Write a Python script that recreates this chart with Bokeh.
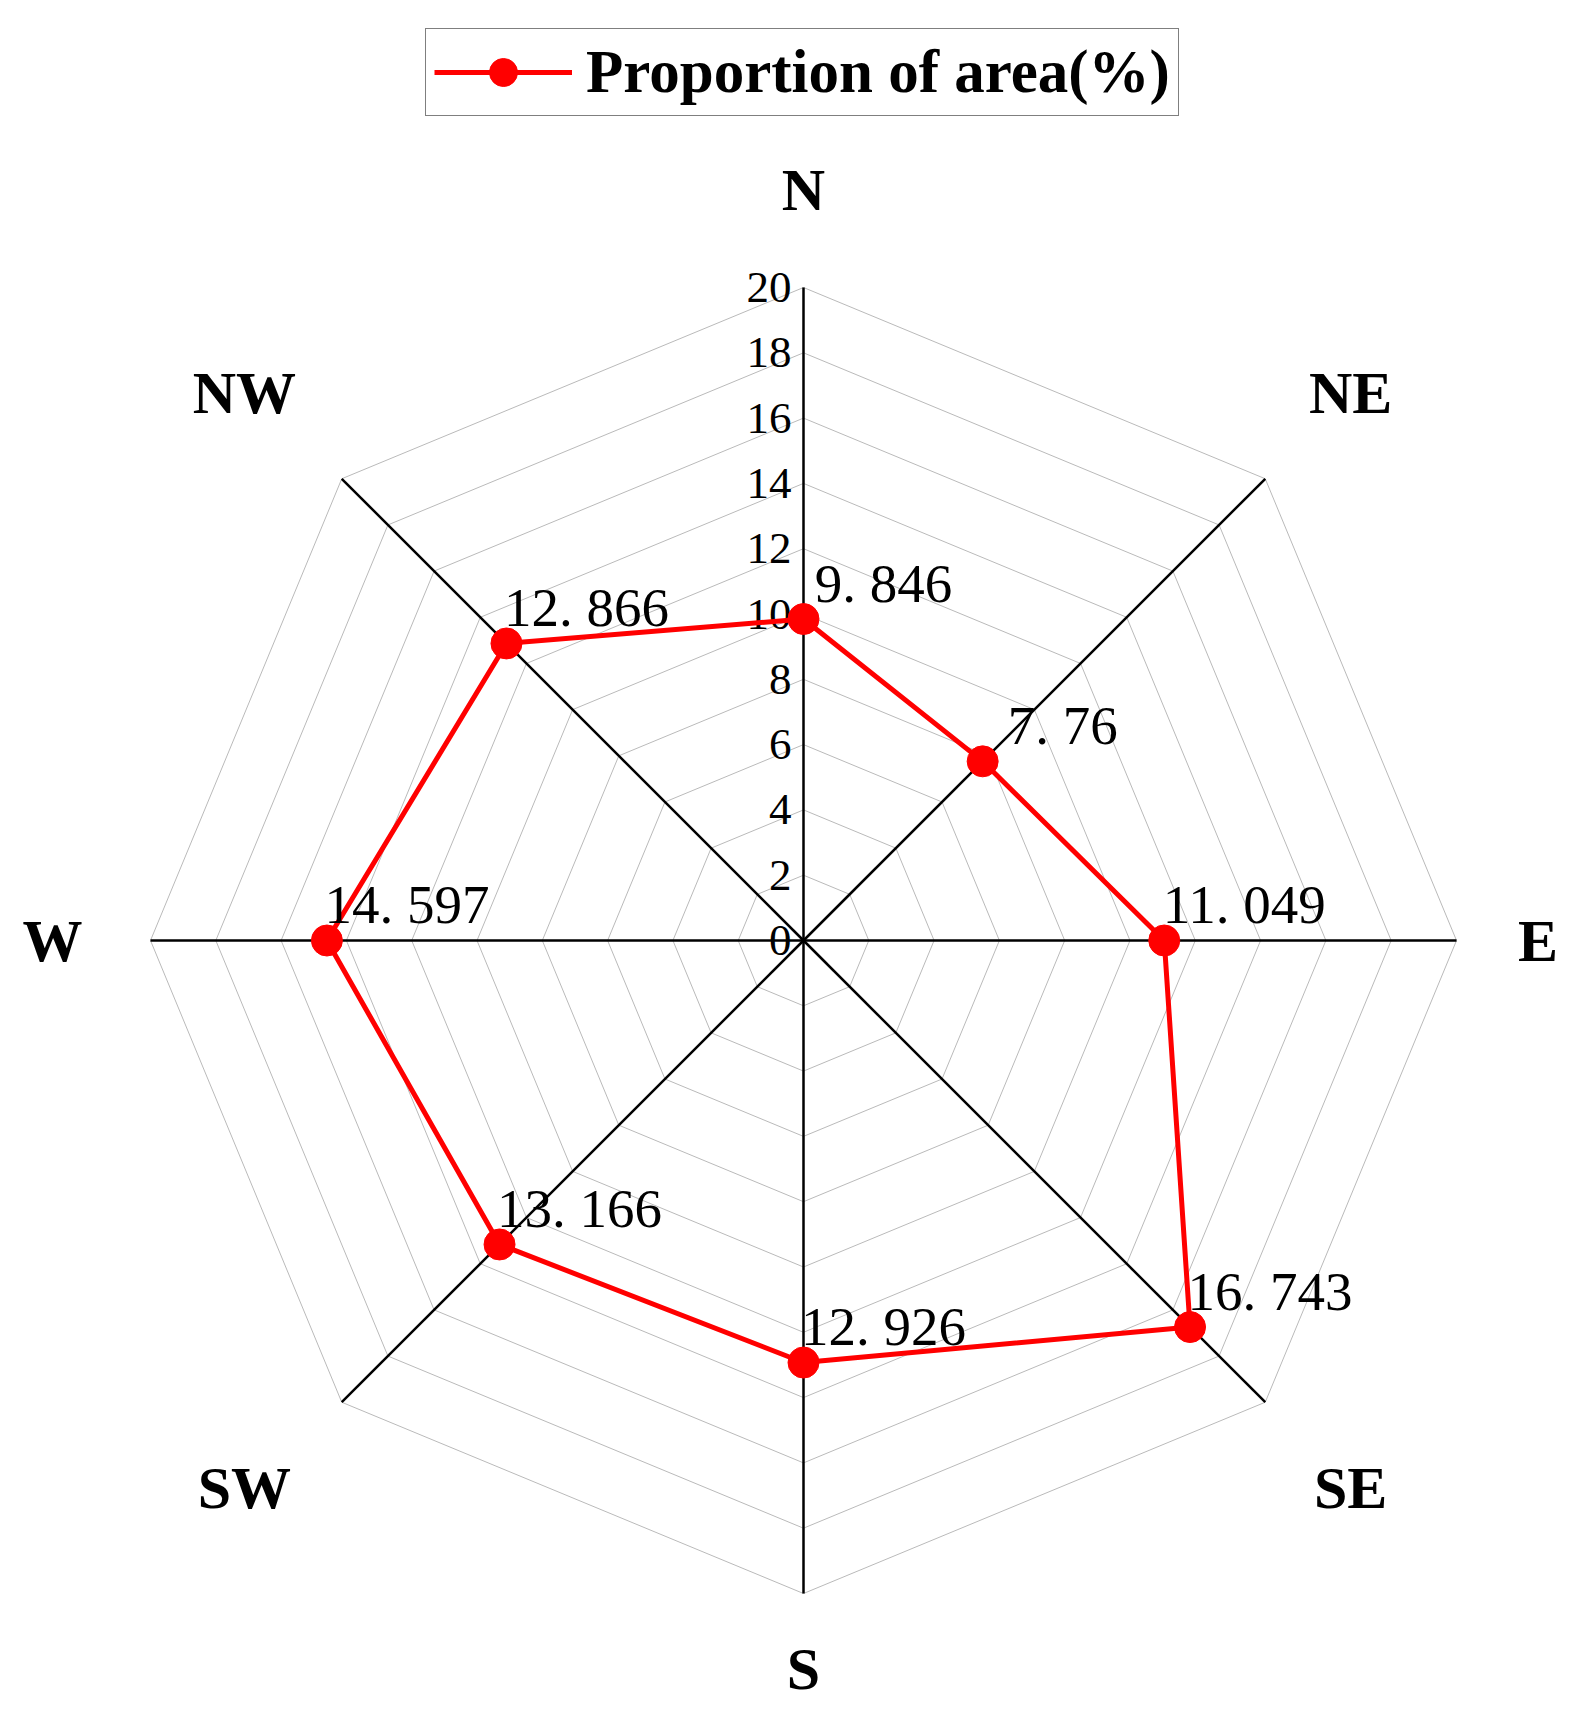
import numpy as np
from bokeh.plotting import figure
from bokeh.models import Legend, LegendItem
from bokeh.core.properties import value
from bokeh.embed import file_html
from bokeh.resources import INLINE

# ---------------- data ----------------
directions = ["N", "NE", "E", "SE", "S", "SW", "W", "NW"]
proportion = [9.846, 7.76, 11.049, 16.743, 12.926, 13.166, 14.597, 12.866]
point_labels = ["9. 846", "7. 76", "11. 049", "16. 743", "12. 926", "13. 166", "14. 597", "12. 866"]
radial_ticks = [0, 2, 4, 6, 8, 10, 12, 14, 16, 18, 20]
tick_labels = [str(t) for t in radial_ticks]
series_name = "Proportion of area(%)"
r_max = 20

# ---------------- geometry ----------------
W, H = 1565, 1715
PX = 32.65          # pixels per data unit
cx, cy = 803, 940   # canvas position of the centre
FONT = "Liberation Serif"

angles = np.deg2rad(90 - 45 * np.arange(len(directions)))
cosA, sinA = np.cos(angles), np.sin(angles)

p = figure(width=W, height=H, output_backend="svg", toolbar_location=None,
           x_range=(-cx / PX, (W - cx) / PX), y_range=(-(H - cy) / PX, cy / PX),
           x_axis_location=None, y_axis_location=None, min_border=0,
           outline_line_color=None, background_fill_color="white",
           border_fill_color="white")
p.grid.visible = False

# grey octagon grid
gx, gy = [], []
for t in radial_ticks[1:]:
    gx.append(list(t * cosA) + [t * cosA[0]])
    gy.append(list(t * sinA) + [t * sinA[0]])
p.multi_line(gx, gy, line_color="#bababa", line_width=1)

# black spokes
p.multi_line([[0, r_max * c] for c in cosA], [[0, r_max * s] for s in sinA],
             line_color="black", line_width=2.5)

# radial tick labels on the N spoke
p.text(x=[0] * len(radial_ticks), y=radial_ticks, text=tick_labels,
       text_align="right", text_baseline="middle", x_offset=-12,
       text_font=value(FONT), text_font_size=value("45px"), text_color="black")

# direction labels (placement tweaks are styling only)
lab_r, lab_dx = [], []
for i, d in enumerate(directions):
    if d == "E":
        lab_r.append(22.5)
    elif d == "S":
        lab_r.append(22.3)
    elif i % 2 == 0:
        lab_r.append(23.0)
    else:
        lab_r.append(23.7)
    lab_dx.append(-12 if d in ("NW", "SW") else 0)
lab_r = np.array(lab_r)
p.text(x=lab_r * cosA, y=lab_r * sinA, text=directions,
       text_align="center", text_baseline="middle", x_offset=lab_dx,
       text_font=value(FONT), text_font_size=value("60px"),
       text_font_style="bold", text_color="black")

# series
vals = np.array(proportion)
px_ = vals * cosA
py_ = vals * sinA
line_r = p.line(list(px_) + [px_[0]], list(py_) + [py_[0]],
                line_color="#ff0000", line_width=5)
pt_r = p.scatter(px_, py_, size=31, fill_color="#ff0000", line_color="#ff0000")

p.text(x=px_, y=py_, text=point_labels, text_align="center",
       text_baseline="middle", x_offset=80, y_offset=-36,
       text_font=value(FONT), text_font_size=value("55px"), text_color="black")

legend = Legend(items=[LegendItem(label=series_name, renderers=[line_r, pt_r])],
                location=(425, 1599), orientation="horizontal",
                label_text_font=FONT, label_text_font_style="bold",
                label_text_font_size="61px", label_text_color="black",
                glyph_width=138, glyph_height=70, padding=8, margin=0,
                spacing=0, label_standoff=14,
                border_line_color="black", border_line_width=1,
                background_fill_color="white", background_fill_alpha=1)
p.add_layout(legend)

open("out.html", "w").write(file_html(p, INLINE))
